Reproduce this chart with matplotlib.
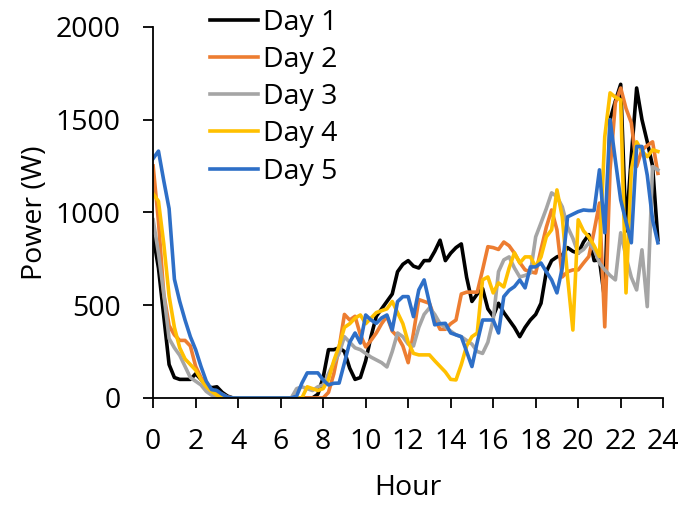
import numpy as np
import matplotlib
matplotlib.use("Agg")
import matplotlib.pyplot as plt

plt.rcParams['font.family'] = ['Open Sans', 'DejaVu Sans']

# quarter-hour readings, 0:00 to 23:45 (4 per row = 1 hour)
hours = np.arange(96) * 0.25

day1 = [870, 700, 440, 180,  110, 100, 100, 100,  130, 100, 70, 55,  60, 30, 10, 0,
        0, 0, 0, 0,  0, 0, 0, 0,  0, 0, 0, 0,  0, 0, 0, 20,
        110, 260, 260, 270,  250, 160, 100, 110,  200, 330, 440, 480,  520, 560, 680, 720,
        740, 710, 700, 740,  740, 790, 850, 740,  780, 810, 830, 650,  520, 560, 590, 480,
        440, 510, 460, 420,  380, 330, 380, 420,  450, 510, 680, 740,  760, 770, 810, 790,
        780, 840, 880, 740,  744, 528, 1500, 1600,  1690, 900, 1300, 1670,  1500, 1380, 1250, 852]

day2 = [1250, 950, 560, 390,  340, 310, 310, 280,  170, 110, 70, 45,  30, 20, 5, 0,
        0, 0, 0, 0,  0, 0, 0, 0,  0, 0, 0, 0,  0, 0, 0, 0,
        0, 30, 130, 270,  450, 420, 440, 340,  275, 310, 350, 400,  440, 360, 330, 280,
        190, 350, 530, 520,  510, 430, 370, 370,  400, 420, 560, 570,  570, 570, 690, 815,
        810, 800, 840, 820,  780, 730, 690, 680,  673, 800, 920, 1013,  906, 652, 680, 690,
        690, 727, 762, 900,  1050, 383, 1229, 1590,  1670, 1560, 1482, 1247,  1337, 1360, 1380, 1210]

day3 = [960, 780, 560, 320,  270, 230, 170, 110,  90, 70, 35, 15,  0, 0, 0, 0,
        0, 0, 0, 0,  0, 0, 0, 0,  0, 0, 0, 50,  60, 50, 40, 60,
        70, 130, 190, 240,  330, 300, 270, 260,  240, 220, 205, 190,  167, 250, 350, 330,
        290, 280, 380, 450,  485, 450, 400, 380,  360, 340, 330, 310,  290, 250, 240, 300,
        420, 680, 744, 760,  700, 652, 660, 673,  868, 943, 1020, 1105,  1085, 1030, 922, 860,
        780, 800, 836, 800,  727, 690, 660, 636,  890, 760, 650, 582,  798, 492, 1247, 1229]

day4 = [1100, 1060, 830, 550,  380, 270, 210, 180,  150, 100, 60, 35,  15, 0, 0, 0,
        0, 0, 0, 0,  0, 0, 0, 0,  0, 0, 0, 0,  0, 60, 50, 40,
        50, 100, 200, 280,  380, 400, 430, 447,  400, 430, 460, 470,  480, 520, 460, 400,
        300, 240, 232, 232,  232, 200, 170, 140,  100, 97, 180, 280,  330, 350, 636, 652,
        566, 620, 598, 700,  782, 727, 760, 760,  706, 760, 868, 906,  1121, 976, 650, 366,
        960, 900, 868, 820,  762, 1408, 1644, 1620,  1606, 566, 1229, 1380,  1330, 1300, 1337, 1328]

day5 = [1290, 1330, 1170, 1020,  640, 520, 420, 330,  260, 170, 90, 45,  40, 20, 5, 0,
        0, 0, 0, 0,  0, 0, 0, 0,  0, 0, 0, 10,  80, 135, 135, 135,
        97, 70, 79, 80,  189, 300, 350, 296,  447, 420, 402, 431,  447, 366, 519, 546,
        546, 438, 582, 636,  512, 394, 400, 402,  350, 340, 330, 250,  169, 300, 420, 420,
        420, 350, 546, 580,  600, 636, 593, 706,  706, 727, 680, 636,  566, 700, 976, 990,
        1004, 1013, 1010, 1010,  1229, 890, 1500, 1280,  1067, 950, 836, 1355,  1355, 1200, 960, 836]

labels = ["Day 1", "Day 2", "Day 3", "Day 4", "Day 5"]
colors = ["#000000", "#ED7D31", "#A5A5A5", "#FFC000", "#2E6FC7"]

fig = plt.figure(figsize=(6.93, 5.05), dpi=100)
ax = fig.add_axes([0.221, 0.212, 0.736, 0.735])

for data, lab, col in zip([day1, day2, day3, day4, day5], labels, colors):
    ax.plot(hours, data, color=col, lw=2.6, label=lab, solid_joinstyle='round')

ax.set_xlim(0, 24)
ax.set_ylim(0, 2000)
ax.set_xticks(range(0, 25, 2))
ax.set_yticks(range(0, 2001, 500))
ax.tick_params(labelsize=20.5, length=7.5, width=1.3, direction='out')
ax.tick_params(axis='y', pad=16)
ax.tick_params(axis='x', pad=14)
for s in ['top', 'right']:
    ax.spines[s].set_visible(False)
for s in ['left', 'bottom']:
    ax.spines[s].set_linewidth(1.3)

ax.set_xlabel("Hour", fontsize=20.5)
ax.set_ylabel("Power (W)", fontsize=20.5)
ax.xaxis.set_label_coords(0.5, -0.205)
ax.yaxis.set_label_coords(-0.205, 0.5)

ax.legend(loc='upper left', bbox_to_anchor=(0.303, 0.982), bbox_transform=fig.transFigure,
          frameon=False, fontsize=20.5, handlelength=1.68, handletextpad=0.18,
          labelspacing=0.32, borderpad=0, borderaxespad=0)

fig.savefig("out.png", dpi=100)
